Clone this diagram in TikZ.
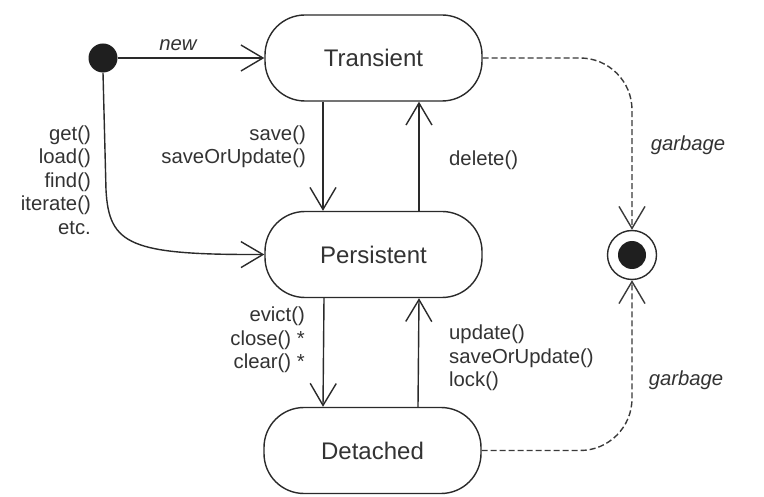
\documentclass[tikz,border=0pt]{standalone}
\usepackage{fontspec}
\setmainfont{Liberation Sans}
\usetikzlibrary{arrows.meta}
\definecolor{ink}{HTML}{2A2A2A}
\definecolor{txt}{HTML}{333333}
\definecolor{dash}{HTML}{3A3A3A}
\begin{document}
\begin{tikzpicture}[x=1pt,y=-1pt,
  state/.style={draw=ink, line width=1.4pt, rectangle, rounded corners=40pt,
    minimum width=217pt, minimum height=86pt, inner sep=0pt,
    font=\fontsize{24}{28}\selectfont, text=txt},
  lbl/.style={font=\fontsize{20.3}{23.5}\selectfont, text=txt, inner sep=0pt},
  arr/.style={draw=ink, line width=1.4pt, -{Straight Barb[length=22pt,width=26pt]}},
  garb/.style={draw=dash, line width=1.4pt, dash pattern=on 6pt off 3pt, rounded corners=52pt,
    -{Straight Barb[length=22pt,width=26pt]}}]
\useasboundingbox[fill=white] (0,0) rectangle (764,497);

% states
\node[state] (T) at (373.5,58) {Transient};
\node[state] (P) at (373.5,254.5) {Persistent};
\node[state] (D) at (372.5,450.5) {Detached};

% initial and final
\node[circle, fill=black!88, minimum size=29pt, inner sep=0pt] (init) at (103,58) {};
\node[circle, draw=ink, line width=1.4pt, minimum size=49pt, inner sep=0pt] (fin) at (632,255) {};
\node[circle, fill=black!88, minimum size=28pt, inner sep=0pt] (fdot) at (fin) {};

% transitions
\draw[arr] (init) -- (T.west);
\coordinate (bend) at (106,190);
\draw[arr] (init.south) -- (bend) .. controls (109,245) and (130,255) .. (P.west);

\draw[arr] ([xshift=-50.5pt]T.south) -- ([xshift=-50.5pt]P.north);
\draw[arr] ([xshift=45.5pt]P.north) -- ([xshift=45.5pt]T.south);
\draw[arr] ([xshift=-49.5pt]P.south) -- ([xshift=-49.5pt]D.north);
\draw[arr] ([xshift=45.5pt]D.north) -- ([xshift=45.5pt]P.south);

\draw[garb] (T.east) -| (fin.north);
\draw[garb] (D.east) -| (fin.south);

% labels
\node[lbl, font=\fontsize{20.3}{23.5}\selectfont\itshape] (lnew) at (178,45) {new};
\node[lbl, align=right, anchor=east] (lget) at (91,180) {get()\\load()\\find()\\iterate()\\etc.};
\node[lbl, align=right, anchor=east] (lsave) at (306,147) {save()\\saveOrUpdate()};
\node[lbl, anchor=west] (ldel) at (449,160) {delete()};
\node[lbl, align=right, anchor=east] (levict) at (305,340) {evict()\\close() *\\clear() *};
\node[lbl, align=left, anchor=west] (lupd) at (449,358) {update()\\saveOrUpdate()\\lock()};
\node[lbl, font=\fontsize{20.3}{23.5}\selectfont\itshape] (lg1) at (688,145) {garbage};
\node[lbl, font=\fontsize{20.3}{23.5}\selectfont\itshape] (lg2) at (686,380) {garbage};
\end{tikzpicture}
\end{document}
